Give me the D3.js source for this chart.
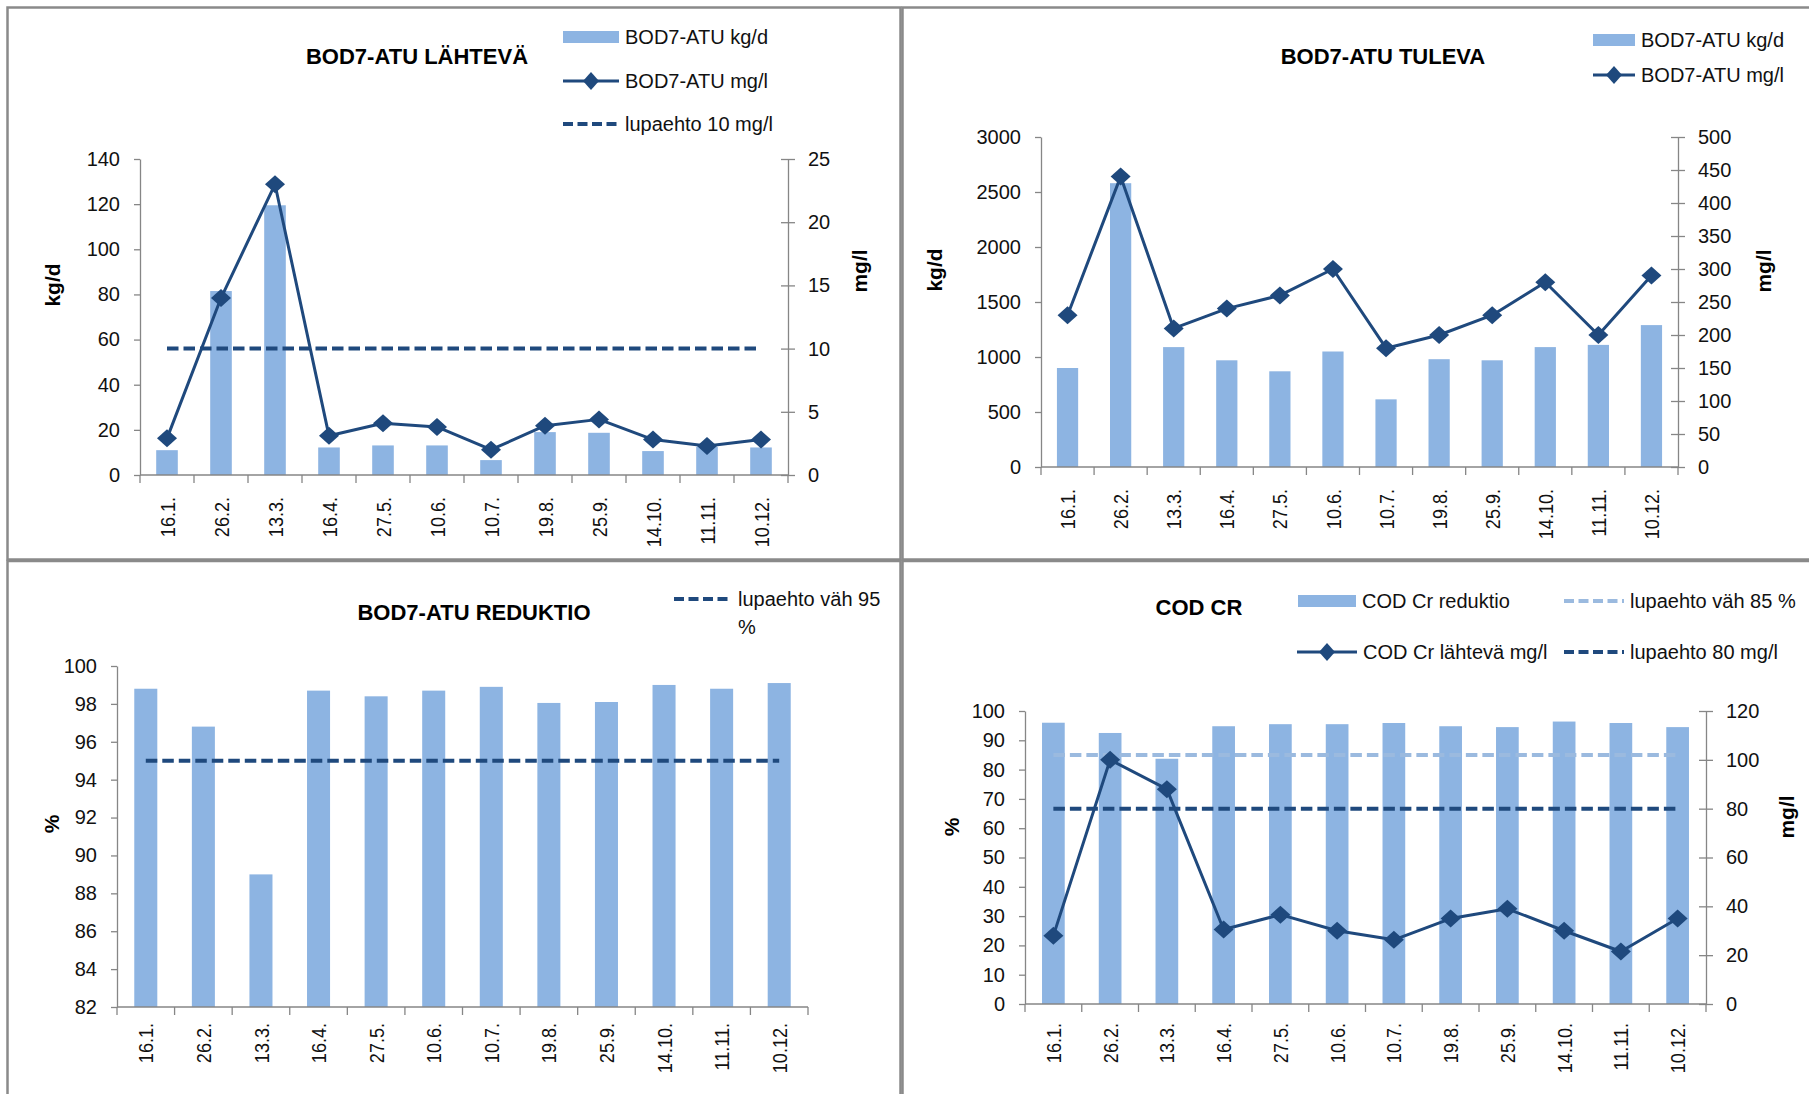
<!DOCTYPE html>
<html>
<head>
<meta charset="utf-8">
<script src="https://cdn.jsdelivr.net/npm/d3@7"></script>
<style>
  body { margin: 0; background: #fff; }
  svg text { font-family: "Liberation Sans", Arial, sans-serif; }
</style>
</head>
<body>
<div id="vis"></div>
<script>
// sample dates (x categories, same for all four charts)
const dates = ['16.1.', '26.2.', '13.3.', '16.4.', '27.5.', '10.6.', '10.7.', '19.8.', '25.9.', '14.10.', '11.11.', '10.12.'];

// BOD7-ATU lähtevä
const lahtevaKgd = [11, 81.5, 119.5, 12.2, 13.1, 13.1, 6.6, 19, 18.7, 10.6, 12.5, 12.2];
const lahtevaMgl = [2.9, 14.0, 23.0, 3.1, 4.1, 3.8, 2.0, 3.9, 4.4, 2.8, 2.3, 2.8];
const lahtevaLimit = 10;

// BOD7-ATU tuleva
const tulevaKgd = [900, 2580, 1090, 970, 870, 1050, 615, 980, 970, 1090, 1110, 1290];
const tulevaMgl = [230, 440, 210, 240, 260, 300, 180, 200, 230, 280, 200, 290];

// BOD7-ATU reduktio %
const reduktio = [98.8, 96.8, 89.0, 98.7, 98.4, 98.7, 98.9, 98.05, 98.1, 99.0, 98.8, 99.1];
const reduktioLimit = 95;

// COD Cr
const codReduktio = [96, 92.5, 83.7, 94.8, 95.5, 95.5, 95.9, 94.8, 94.5, 96.4, 95.9, 94.5];
const codMgl = [28, 100, 88, 30.5, 36.6, 30, 26.3, 35, 39, 30, 21.5, 35];
const codReduktioLimit = 85;
const codMglLimit = 80;

const barColor = '#8DB4E2';
const darkBlue = '#1F497D';
const lightDash = '#9BBADF';
const axisColor = '#868686';

let svg = d3.select('#vis')
  .append('svg')
  .attr('width', 1809)
  .attr('height', 1094)
  .style('background-color', '#fff');

const diamond = (w, h) => `M0,${-h}L${w},0L0,${h}L${-w},0Z`;

function styleAxis(a) {
  a.select('.domain').attr('stroke', axisColor).attr('stroke-width', 1.3);
  a.selectAll('.tick line').attr('stroke', axisColor).attr('stroke-width', 1.3);
  a.selectAll('text')
    .attr('font-size', 20)
    .attr('font-family', '"Liberation Sans", Arial, sans-serif')
    .attr('fill', '#111');
}

function drawPanel(p) {
  const g = svg.append('g');

  // frame around the chart
  g.append('rect')
    .attr('x', p.frame[0]).attr('y', p.frame[1])
    .attr('width', p.frame[2]).attr('height', p.frame[3])
    .attr('fill', 'none').attr('stroke', '#8a8a8a').attr('stroke-width', 2.5);

  const x = d3.scaleBand().domain(dates).range(p.xRange).paddingInner(0.6).paddingOuter(0.3);
  const cx = d => x(d) + x.bandwidth() / 2;
  const yL = d3.scaleLinear().domain(p.left.domain).range(p.yRange);
  const yR = p.right ? d3.scaleLinear().domain(p.right.domain).range(p.yRange) : null;
  const scaleOf = s => s === 'right' ? yR : yL;
  const base = p.yRange[0];

  // bars
  g.selectAll('.bar')
    .data(p.bars)
    .join('rect')
    .attr('x', (d, i) => x(dates[i]))
    .attr('width', x.bandwidth())
    .attr('y', d => yL(d))
    .attr('height', d => base - yL(d))
    .attr('fill', barColor);

  // limit lines (dashed)
  p.limits.forEach(l => {
    const s = scaleOf(l.axis);
    g.append('line')
      .attr('x1', cx(dates[0])).attr('x2', cx(dates[dates.length - 1]))
      .attr('y1', s(l.value)).attr('y2', s(l.value))
      .attr('stroke', l.color).attr('stroke-width', 4)
      .attr('stroke-dasharray', '11.5,5');
  });

  // line + diamond markers
  if (p.line) {
    const line = d3.line().x((d, i) => cx(dates[i])).y(d => yR(d));
    g.append('path')
      .attr('d', line(p.line))
      .attr('fill', 'none').attr('stroke', darkBlue).attr('stroke-width', 3)
      .attr('stroke-linejoin', 'round');
    g.selectAll('.mk')
      .data(p.line)
      .join('path')
      .attr('transform', (d, i) => `translate(${cx(dates[i])},${yR(d)})`)
      .attr('d', diamond(10, 9))
      .attr('fill', darkBlue);
  }

  // left axis
  const lv = d3.range(p.left.domain[0], p.left.domain[1] + p.left.step / 2, p.left.step);
  g.append('g')
    .attr('transform', `translate(${p.xRange[0]},0)`)
    .call(d3.axisLeft(yL).tickValues(lv).tickSize(6).tickSizeOuter(0).tickPadding(14).tickFormat(d3.format('d')))
    .call(styleAxis);

  // right axis, ticks cross the line
  if (p.right) {
    const rv = d3.range(p.right.domain[0], p.right.domain[1] + p.right.step / 2, p.right.step);
    g.append('g')
      .attr('transform', `translate(${p.xRange[1]},0)`)
      .call(d3.axisRight(yR).tickValues(rv).tickSize(7).tickSizeOuter(0).tickPadding(13).tickFormat(d3.format('d')))
      .call(styleAxis)
      .call(a => a.selectAll('.tick line').attr('x1', -7));
  }

  // category axis
  g.append('line')
    .attr('x1', p.xRange[0]).attr('x2', p.xRange[1])
    .attr('y1', base).attr('y2', base)
    .attr('stroke', axisColor).attr('stroke-width', 1.3);
  const edges = dates.map(d => cx(d) - x.step() / 2).concat([cx(dates[dates.length - 1]) + x.step() / 2]);
  g.selectAll('.xt')
    .data(edges)
    .join('line')
    .attr('x1', d => d).attr('x2', d => d)
    .attr('y1', base).attr('y2', base + 8)
    .attr('stroke', axisColor).attr('stroke-width', 1.3);
  g.selectAll('.xl')
    .data(dates)
    .join('text')
    .attr('transform', d => `translate(${cx(d)},${base + p.labelGap}) rotate(-90) scale(0.86,1)`)
    .attr('text-anchor', 'end')
    .attr('dy', '0.36em')
    .attr('font-size', 21)
    .attr('fill', '#111')
    .text(d => d);

  // title
  g.append('text')
    .attr('x', p.title.x).attr('y', p.title.y)
    .attr('text-anchor', 'middle').attr('dy', '0.36em')
    .attr('font-size', 22).attr('font-weight', 'bold')
    .text(p.title.text);

  // axis titles
  p.axisTitles.forEach(t => {
    g.append('text')
      .attr('transform', `translate(${t.x},${t.y}) rotate(-90)`)
      .attr('text-anchor', 'middle').attr('dy', '0.36em')
      .attr('font-size', 21).attr('font-weight', 'bold')
      .text(t.text);
  });

  // legend
  p.legend.forEach(l => {
    const w = l.w || 56;
    if (l.type === 'bar') {
      g.append('rect').attr('x', l.x).attr('y', l.y - 6).attr('width', w).attr('height', 12).attr('fill', barColor);
    } else if (l.type === 'line') {
      g.append('line').attr('x1', l.x).attr('x2', l.x + w).attr('y1', l.y).attr('y2', l.y)
        .attr('stroke', darkBlue).attr('stroke-width', 3);
      g.append('path').attr('transform', `translate(${l.x + w / 2},${l.y})`).attr('d', diamond(8, 9)).attr('fill', darkBlue);
    } else {
      g.append('line').attr('x1', l.x).attr('x2', l.x + w).attr('y1', l.y).attr('y2', l.y)
        .attr('stroke', l.color).attr('stroke-width', 4).attr('stroke-dasharray', '10,4.5');
    }
    const lines = [].concat(l.text);
    lines.forEach((s, k) => {
      g.append('text')
        .attr('x', l.x + w + 6).attr('y', l.y + k * 28)
        .attr('dy', '0.36em').attr('font-size', 20).attr('fill', '#111')
        .text(s);
    });
  });
}

// top left
drawPanel({
  frame: [7.5, 7.5, 893, 552],
  xRange: [140, 788], yRange: [475, 159],
  left: { domain: [0, 140], step: 20 },
  right: { domain: [0, 25], step: 5 },
  bars: lahtevaKgd, line: lahtevaMgl,
  limits: [{ value: lahtevaLimit, axis: 'right', color: darkBlue }],
  labelGap: 22,
  title: { text: 'BOD7-ATU LÄHTEVÄ', x: 417, y: 56 },
  axisTitles: [{ text: 'kg/d', x: 52, y: 285 }, { text: 'mg/l', x: 859, y: 271 }],
  legend: [
    { type: 'bar', text: 'BOD7-ATU kg/d', x: 563, y: 37 },
    { type: 'line', text: 'BOD7-ATU mg/l', x: 563, y: 81 },
    { type: 'dash', color: darkBlue, text: 'lupaehto 10 mg/l', x: 563, y: 124 }
  ]
});

// top right
drawPanel({
  frame: [902.5, 7.5, 920, 552],
  xRange: [1041, 1678], yRange: [467, 137],
  left: { domain: [0, 3000], step: 500 },
  right: { domain: [0, 500], step: 50 },
  bars: tulevaKgd, line: tulevaMgl,
  limits: [],
  labelGap: 22,
  title: { text: 'BOD7-ATU TULEVA', x: 1383, y: 56 },
  axisTitles: [{ text: 'kg/d', x: 934, y: 270 }, { text: 'mg/l', x: 1763, y: 271 }],
  legend: [
    { type: 'bar', text: 'BOD7-ATU kg/d', x: 1593, y: 40, w: 42 },
    { type: 'line', text: 'BOD7-ATU mg/l', x: 1593, y: 75, w: 42 }
  ]
});

// bottom left
drawPanel({
  frame: [7.5, 561, 893, 600],
  xRange: [117, 808], yRange: [1007, 666],
  left: { domain: [82, 100], step: 2 },
  bars: reduktio,
  limits: [{ value: reduktioLimit, axis: 'left', color: darkBlue }],
  labelGap: 16,
  title: { text: 'BOD7-ATU REDUKTIO', x: 474, y: 612 },
  axisTitles: [{ text: '%', x: 51, y: 824 }],
  legend: [
    { type: 'dash', color: darkBlue, text: ['lupaehto väh 95', '%'], x: 674, y: 599, w: 58 }
  ]
});

// bottom right
drawPanel({
  frame: [902.5, 561, 920, 600],
  xRange: [1025, 1706], yRange: [1004, 711],
  left: { domain: [0, 100], step: 10 },
  right: { domain: [0, 120], step: 20 },
  bars: codReduktio, line: codMgl,
  limits: [
    { value: codReduktioLimit, axis: 'left', color: lightDash },
    { value: codMglLimit, axis: 'right', color: darkBlue }
  ],
  labelGap: 19,
  title: { text: 'COD CR', x: 1199, y: 607 },
  axisTitles: [{ text: '%', x: 951, y: 827 }, { text: 'mg/l', x: 1786, y: 817 }],
  legend: [
    { type: 'bar', text: 'COD Cr reduktio', x: 1298, y: 601, w: 58 },
    { type: 'dash', color: lightDash, text: 'lupaehto väh 85 %', x: 1564, y: 601, w: 60 },
    { type: 'line', text: 'COD Cr lähtevä mg/l', x: 1297, y: 652, w: 60 },
    { type: 'dash', color: darkBlue, text: 'lupaehto 80 mg/l', x: 1564, y: 652, w: 60 }
  ]
});
</script>
</body>
</html>
